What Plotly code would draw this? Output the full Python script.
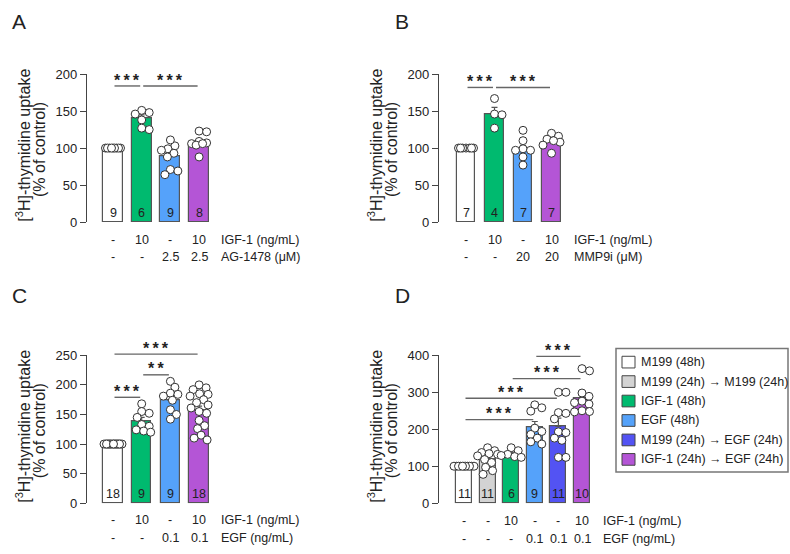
"""
Panel figure: [3H]-thymidine uptake, four bar charts with individual points
"""

import plotly.graph_objects as go

W, H = 790, 554
FONT = 'Arial, "Liberation Sans", sans-serif'
INK = '#222222'
EDGE = '#555555'
TXT = 12.5

# Colours
WHITE = '#FFFFFF'
GREY = '#D3D3D3'
GREEN = '#00BA6F'
LBLUE = '#55A2FA'
DBLUE = '#5353F3'
PURPLE = '#B455D6'

# ---- Panel A : IGF-1 +/- AG-1478
a_colors = [WHITE, GREEN, LBLUE, PURPLE]
a_mean = [100, 140, 89, 105]
a_sem = [0, 5, 5, 4]
a_points = [
    [100] * 9,
    [148, 151, 146, 138, 125, 127],
    [103, 111, 99, 93, 88, 71, 69, 64, 97],
    [123, 122, 107, 106, 109, 104, 88, 106],
]
a_row1 = ['-', '10', '-', '10']
a_row2 = ['-', '-', '2.5', '2.5']
a_rowlab = ['IGF-1 (ng/mL)', 'AG-1478 (μM)']
a_sig = [(0, 1, 184, '***'), (1, 3, 184, '***')]

# ---- Panel B : IGF-1 +/- MMP9i
b_colors = [WHITE, GREEN, LBLUE, PURPLE]
b_mean = [100, 146, 97, 108]
b_sem = [0, 9, 6, 4]
b_points = [
    [100] * 7,
    [167, 146, 145, 127],
    [124, 110, 99, 97, 97, 88, 77],
    [120, 116, 112, 108, 110, 104, 93],
]
b_row1 = ['-', '10', '-', '10']
b_row2 = ['-', '-', '20', '20']
b_rowlab = ['IGF-1 (ng/mL)', 'MMP9i (μM)']
b_sig = [(0, 1, 182, '***'), (1, 3, 182, '***')]

# ---- Panel C : IGF-1 / EGF
c_colors = [WHITE, GREEN, LBLUE, PURPLE]
c_mean = [100, 139, 174, 157]
c_sem = [0, 6, 7, 7]
c_points = [
    [100] * 18,
    [168, 155, 152, 145, 133, 130, 124, 122, 120],
    [206, 196, 186, 184, 181, 174, 158, 150, 142],
    [200, 195, 192, 185, 184, 181, 175, 170, 166,
     161, 155, 152, 140, 131, 126, 115, 110, 107],
]
c_row1 = ['-', '10', '-', '10']
c_row2 = ['-', '-', '0.1', '0.1']
c_rowlab = ['IGF-1 (ng/mL)', 'EGF (ng/mL)']
c_sig = [(0, 1, 179, '***'), (1, 2, 217, '**'), (0, 3, 252, '***')]

# ---- Panel D : sequential treatments
d_colors = [WHITE, GREY, GREEN, LBLUE, DBLUE, PURPLE]
d_mean = [100, 118, 132, 205, 208, 284]
d_sem = [0, 7, 5, 16, 22, 17]
d_points = [
    [100] * 11,
    [150, 142, 137, 134, 132, 128, 118, 110, 97, 88, 78],
    [150, 142, 132, 129, 126, 124],
    [266, 258, 249, 203, 194, 186, 176, 166, 160],
    [300, 300, 245, 243, 228, 193, 191, 176, 170, 124, 124],
    [364, 358, 298, 289, 276, 272, 268, 250, 247, 248],
]
d_row1 = ['-', '-', '10', '-', '-', '10']
d_row2 = ['-', '-', '-', '0.1', '0.1', '0.1']
d_rowlab = ['IGF-1 (ng/mL)', 'EGF (ng/mL)']
d_sig = [(0, 3, 226, '***'), (0, 4, 284, '***'), (2, 5, 337, '***'), (3, 5, 397, '***')]
d_legend = ['M199 (48h)', 'M199 (24h) → M199 (24h)', 'IGF-1 (48h)',
            'EGF (48h)', 'M199 (24h) → EGF (24h)', 'IGF-1 (24h) → EGF (24h)']

# Panel geometry in pixels (axis x, first bar centre, bar step, y top/bottom)
PANELS = [
    dict(key='A', ax=87, c0=113, step=28.7, ytop=69, ybot=221, ymax=200, dtick=50,
         bw=0.70, spread=9, rows=(239, 257), labx=219, letter=(19, 15)),
    dict(key='B', ax=439, c0=466, step=28.5, ytop=69, ybot=221, ymax=200, dtick=50,
         bw=0.64, spread=8.5, rows=(239, 257), labx=572, letter=(402, 15)),
    dict(key='C', ax=87, c0=113, step=28.7, ytop=358, ybot=510, ymax=250, dtick=50,
         bw=0.67, spread=9, rows=(527, 546), labx=219, letter=(19, 297)),
    dict(key='D', ax=439, c0=464, step=23.6, ytop=358, ybot=510, ymax=400, dtick=100,
         bw=0.68, spread=10, rows=(528, 547), labx=601, letter=(402, 297)),
]

DATA = {
    'A': (a_colors, a_mean, a_sem, a_points, a_row1, a_row2, a_rowlab, a_sig),
    'B': (b_colors, b_mean, b_sem, b_points, b_row1, b_row2, b_rowlab, b_sig),
    'C': (c_colors, c_mean, c_sem, c_points, c_row1, c_row2, c_rowlab, c_sig),
    'D': (d_colors, d_mean, d_sem, d_points, d_row1, d_row2, d_rowlab, d_sig),
}


def swarm(vals, ppu, step, d=7.5, maxw=9.0):
    """Deterministic beeswarm offsets (in bar units)"""
    order = sorted(range(len(vals)), key=lambda k: -vals[k])
    cands = [0.0]
    k = 1
    while k * 0.5 <= maxw:
        cands += [k * 0.5, -k * 0.5]
        k += 1
    placed = []
    offs = [0.0] * len(vals)
    for k in order:
        y = vals[k] * ppu
        best, bestd = 0.0, -1.0
        for c in cands:
            md = min([((c - px) ** 2 + (y - py) ** 2) ** 0.5 for px, py in placed] or [1e9])
            if md >= d:
                best = c
                break
            if md > bestd:
                best, bestd = c, md
        offs[k] = best
        placed.append((best, y))
    return [o / step for o in offs]


def star_text(s):
    # asterisks a little apart, as in the original figure
    return '\u2009'.join(s)


def label(x, y, text, size=TXT, xanchor='center', angle=0):
    return dict(x=x / W, y=1 - y / H, xref='paper', yref='paper', text=text,
                showarrow=False, xanchor=xanchor, yanchor='middle', textangle=angle,
                font=dict(size=size, color=INK, family=FONT))


fig = go.Figure()
annotations = []
shapes = []

for n, p in enumerate(PANELS):
    colors, mean, sem, points, row1, row2, rowlab, sig = DATA[p['key']]
    sfx = '' if n == 0 else str(n + 1)
    xa, ya = 'x' + sfx, 'y' + sfx
    nb = len(mean)
    ppu = (p['ybot'] - p['ytop']) / p['ymax']

    def xpx(i, p=p):
        return p['c0'] + p['step'] * i

    def ypx(v, p=p, ppu=ppu):
        return p['ybot'] - ppu * v

    xr = xpx(nb - 0.5)
    fig.update_layout(**{
        'xaxis' + sfx: dict(
            domain=[p['ax'] / W, xr / W],
            range=[(p['ax'] - p['c0']) / p['step'], (xr - p['c0']) / p['step']],
            visible=False, anchor=ya,
        ),
        'yaxis' + sfx: dict(
            domain=[1 - p['ybot'] / H, 1 - p['ytop'] / H],
            range=[0, p['ymax']], anchor=xa,
            tickvals=list(range(0, p['ymax'] + 1, p['dtick'])),
            showline=True, linecolor='#444444', linewidth=1.3,
            ticks='outside', ticklen=6, tickwidth=1.3, tickcolor='#444444',
            showgrid=False, zeroline=False,
            tickfont=dict(size=13, color=INK, family=FONT),
        ),
    })

    fig.add_trace(go.Bar(
        x=list(range(nb)), y=mean, width=p['bw'],
        marker=dict(color=colors, line=dict(color=EDGE, width=1.2)),
        error_y=dict(type='data', symmetric=False, array=sem, arrayminus=[0] * nb,
                     color=EDGE, thickness=1.2, width=3),
        xaxis=xa, yaxis=ya, showlegend=False, hoverinfo='skip',
    ))

    for i, pts in enumerate(points):
        offs = swarm(pts, ppu, p['step'], maxw=p['spread'])
        fig.add_trace(go.Scatter(
            x=[i + o for o in offs], y=pts, mode='markers',
            marker=dict(size=8, color='white', line=dict(color='#333333', width=1)),
            cliponaxis=False, xaxis=xa, yaxis=ya, showlegend=False, hoverinfo='skip',
        ))
        # n per group inside the bar
        annotations.append(label(xpx(i), p['ybot'] - 9, str(len(pts))))

    # treatment rows under the bars
    for r, row in enumerate((row1, row2)):
        for i, t in enumerate(row):
            annotations.append(label(xpx(i), p['rows'][r], t))
        annotations.append(label(p['labx'], p['rows'][r], rowlab[r], xanchor='left'))

    # significance bars
    for i, j, yv, stars in sig:
        yl = ypx(yv)
        shapes.append(dict(
            type='line', xref='paper', yref='paper',
            x0=(xpx(i) + 1.5) / W, x1=(xpx(j) - 1.5) / W,
            y0=1 - yl / H, y1=1 - yl / H,
            line=dict(color='#666666', width=1.4),
        ))
        annotations.append(label((xpx(i) + xpx(j)) / 2, yl - 6,
                                 '<b>' + star_text(stars) + '</b>', size=16))

    # y title, two tightly spaced rotated lines
    ymid = (p['ytop'] + p['ybot']) / 2
    annotations.append(label(p['ax'] - 64, ymid - 2.5,
                             '[<sup>3</sup>H]-thymidine uptake', size=16, angle=-90))
    annotations.append(label(p['ax'] - 48, ymid + 2, '(% of control)', size=16, angle=-90))

    # panel letter
    annotations.append(label(p['letter'][0], p['letter'][1], p['key'], size=21))

# legend for panel D drawn by hand
shapes.append(dict(type='rect', xref='paper', yref='paper',
                   x0=616 / W, x1=788 / W, y0=1 - 478 / H, y1=1 - 351 / H,
                   line=dict(color='#777777', width=1.5), fillcolor='white'))
for k, lab in enumerate(d_legend):
    yc = 365 + k * 20
    shapes.append(dict(type='rect', xref='paper', yref='paper',
                       x0=622 / W, x1=635 / W, y0=1 - (yc + 6) / H, y1=1 - (yc - 6) / H,
                       line=dict(color='#444444', width=1), fillcolor=d_colors[k]))
    annotations.append(label(639, yc, lab, xanchor='left'))

fig.update_layout(
    width=W, height=H,
    margin=dict(l=0, r=0, t=0, b=0),
    paper_bgcolor='white', plot_bgcolor='white',
    font=dict(family=FONT, color=INK),
    annotations=annotations, shapes=shapes,
    bargap=0,
)

# the page's default body margin would push the figure off the window
fig.write_html("out.html",
               config={'displayModeBar': False},
               post_script="document.body.style.margin='0px';"
                           "document.body.style.overflow='hidden';")
